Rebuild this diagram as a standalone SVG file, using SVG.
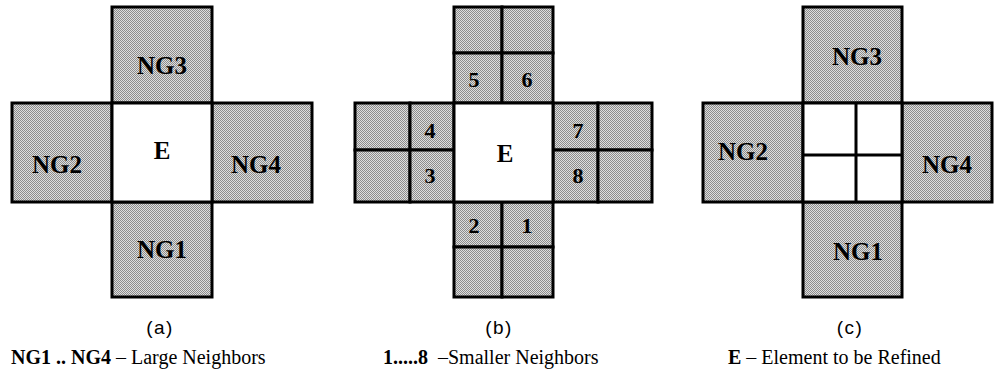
<svg xmlns="http://www.w3.org/2000/svg" width="994" height="372" viewBox="0 0 994 372">
  <defs>
    <!-- fine halftone used for the neighbouring elements -->
    <pattern id="dither" patternUnits="userSpaceOnUse" width="2" height="2">
      <rect width="2" height="2" fill="#dedede"/>
      <rect width="1" height="1" fill="#8c8c8c"/>
      <rect x="1" y="1" width="1" height="1" fill="#8c8c8c"/>
    </pattern>
  </defs>
  <style>
    .nb { fill: url(#dither); stroke: #000; stroke-width: 3; }
    .el { fill: #fff; stroke: #000; stroke-width: 3; }
    .div { stroke: #000; stroke-width: 3; fill: none; }
    .lbl { font-family: "Liberation Serif", "Times New Roman", serif; font-weight: bold; font-size: 25px; fill: #000; text-anchor: middle; }
    .num { font-family: "Liberation Serif", "Times New Roman", serif; font-weight: bold; font-size: 22px; fill: #000; text-anchor: middle; }
    .cap { font-family: "Liberation Sans", Arial, sans-serif; font-size: 19px; letter-spacing: 1.5px; fill: #000; text-anchor: middle; }
    .legend { font-family: "Liberation Serif", "Times New Roman", serif; font-size: 20px; fill: #000; }
    .b { font-weight: bold; }
  </style>

  <!-- (a) element E with four large neighbours -->
  <g id="a-NG3"><rect class="nb" x="112" y="7" width="100" height="96"/><text class="lbl" x="162" y="74">NG3</text></g>
  <g id="a-NG2"><rect class="nb" x="12" y="103" width="100" height="99"/><text class="lbl" x="57" y="173">NG2</text></g>
  <g id="a-NG4"><rect class="nb" x="212" y="103" width="100" height="99"/><text class="lbl" x="256" y="173">NG4</text></g>
  <g id="a-NG1"><rect class="nb" x="112" y="202" width="100" height="95"/><text class="lbl" x="162" y="258">NG1</text></g>
  <g id="a-E"><rect class="el" x="112" y="103" width="100" height="99"/><text class="lbl" x="162" y="159">E</text></g>

  <!-- (b) element E with eight smaller neighbours -->
  <g id="b-top">
    <rect class="nb" x="454" y="7" width="48" height="46"/>
    <rect class="nb" x="502" y="7" width="51" height="46"/>
    <rect class="nb" x="454" y="53" width="48" height="50"/>
    <rect class="nb" x="502" y="53" width="51" height="50"/>
  </g>
  <g id="b-n5"><text class="num" x="474" y="87">5</text></g>
  <g id="b-n6"><text class="num" x="527" y="87">6</text></g>
  <g id="b-left">
    <rect class="nb" x="355" y="103" width="55" height="47"/>
    <rect class="nb" x="410" y="103" width="44" height="47"/>
    <rect class="nb" x="355" y="150" width="55" height="52"/>
    <rect class="nb" x="410" y="150" width="44" height="52"/>
  </g>
  <g id="b-n4"><text class="num" x="430" y="138">4</text></g>
  <g id="b-n3"><text class="num" x="430" y="183">3</text></g>
  <g id="b-right">
    <rect class="nb" x="553" y="103" width="45" height="47"/>
    <rect class="nb" x="598" y="103" width="54" height="47"/>
    <rect class="nb" x="553" y="150" width="45" height="52"/>
    <rect class="nb" x="598" y="150" width="54" height="52"/>
  </g>
  <g id="b-n7"><text class="num" x="578" y="138">7</text></g>
  <g id="b-n8"><text class="num" x="578" y="183">8</text></g>
  <g id="b-bottom">
    <rect class="nb" x="454" y="202" width="48" height="45"/>
    <rect class="nb" x="502" y="202" width="51" height="45"/>
    <rect class="nb" x="454" y="247" width="48" height="50"/>
    <rect class="nb" x="502" y="247" width="51" height="50"/>
  </g>
  <g id="b-n2"><text class="num" x="474" y="233">2</text></g>
  <g id="b-n1"><text class="num" x="527" y="233">1</text></g>
  <g id="b-E"><rect class="el" x="454" y="103" width="99" height="99"/><text class="lbl" x="505" y="162">E</text></g>

  <!-- (c) element E refined into four children -->
  <g id="c-NG3"><rect class="nb" x="803" y="7" width="99" height="96"/><text class="lbl" x="857" y="65">NG3</text></g>
  <g id="c-NG2"><rect class="nb" x="703" y="103" width="100" height="99"/><text class="lbl" x="743" y="160">NG2</text></g>
  <g id="c-NG4"><rect class="nb" x="902" y="103" width="90" height="99"/><text class="lbl" x="947" y="173">NG4</text></g>
  <g id="c-NG1"><rect class="nb" x="803" y="202" width="99" height="95"/><text class="lbl" x="858" y="260">NG1</text></g>
  <g id="c-E">
    <rect class="el" x="803" y="103" width="99" height="99"/>
    <path class="div" d="M856 103V202M803 155H902"/>
  </g>

  <!-- sub-figure captions -->
  <text class="cap" x="160" y="334">(a)</text>
  <text class="cap" x="499" y="334">(b)</text>
  <text class="cap" x="850" y="334">(c)</text>

  <!-- legend -->
  <text class="legend" x="11" y="364"><tspan class="b">NG1 .. NG4</tspan> – Large Neighbors</text>
  <text class="legend" x="383" y="364" xml:space="preserve"><tspan class="b">1.....8</tspan>  –Smaller Neighbors</text>
  <text class="legend" x="728" y="364"><tspan class="b">E</tspan> – Element to be Refined</text>
</svg>
